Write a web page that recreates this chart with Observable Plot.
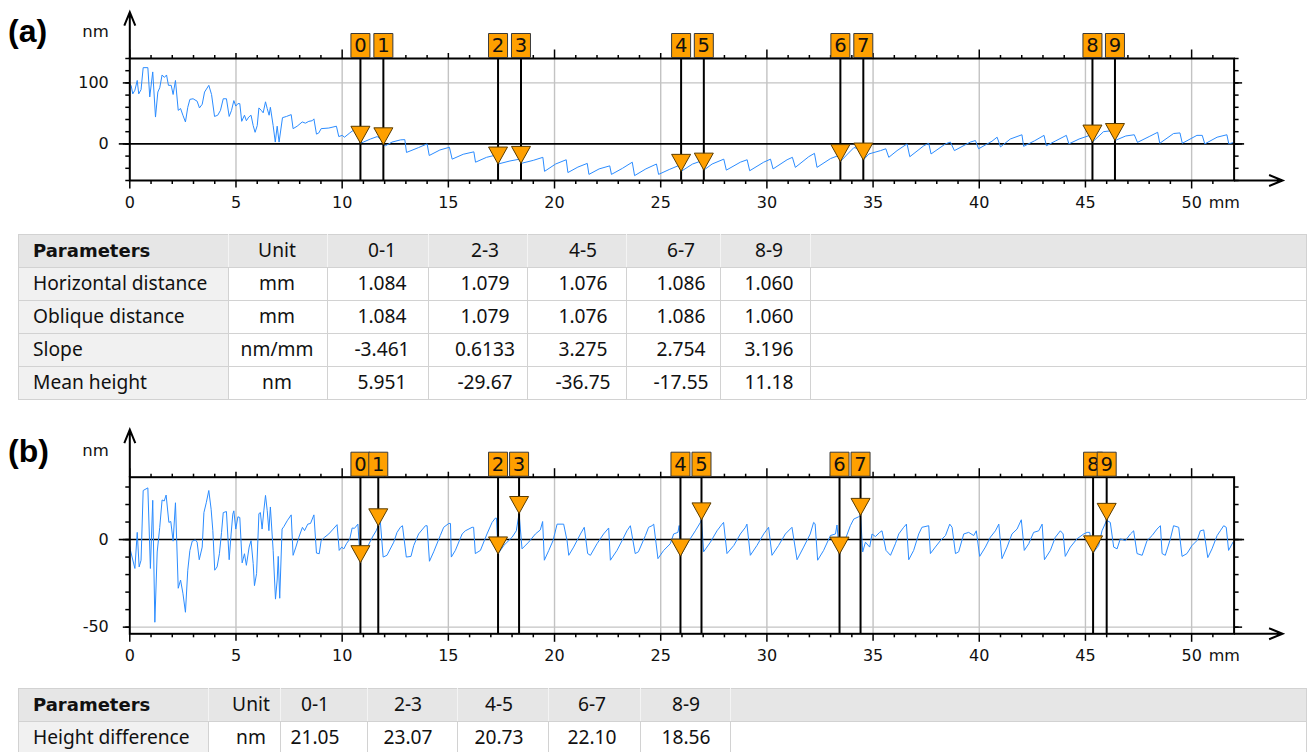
<!DOCTYPE html>
<html>
<head>
<meta charset="utf-8">
<script src="https://cdn.jsdelivr.net/npm/d3@7"></script>
<script src="https://cdn.jsdelivr.net/npm/@observablehq/plot@0.6"></script>
<style>
html,body{margin:0;padding:0;background:#fff;overflow:hidden;}
#page{position:relative;width:1307px;height:752px;overflow:hidden;background:#fff;}
#page > svg{position:absolute;left:0;}
</style>
</head>
<body>
<div id="page"></div>
<script>
// ---------------- DATA ----------------
// (a) raw profile: [position mm, height nm]
const profileA = [
[0.00,98],[0.06,96],[0.14,82],[0.24,88],[0.35,104],[0.42,82],[0.53,89],[0.63,125],[0.85,125],[0.94,77],
[1.08,118],[1.21,44],[1.32,85],[1.41,92],[1.52,113],[1.63,109],[1.73,113],[1.82,96],[1.95,96],[2.04,81],
[2.15,104],[2.28,55],[2.39,58],[2.50,47],[2.62,36],[2.73,60],[2.83,73],[2.98,74],[3.17,70],[3.28,59],
[3.41,65],[3.52,85],[3.72,96],[3.85,81],[3.99,45],[4.14,47],[4.27,55],[4.40,74],[4.55,74],[4.68,45],
[4.79,55],[4.90,71],[4.99,62],[5.09,66],[5.18,66],[5.27,37],[5.40,47],[5.49,38],[5.60,44],[5.71,47],
[5.81,30],[5.90,19],[6.00,30],[6.08,59],[6.19,55],[6.28,51],[6.39,69],[6.47,58],[6.56,47],[6.62,60],
[6.75,30],[6.85,3],[6.94,29],[7.03,3],[7.19,43],[7.38,45],[7.60,48],[7.69,25],[7.88,29],[8.12,36],
[8.27,34],[8.43,37],[8.59,38],[8.67,41],[8.79,16],[8.90,18],[9.01,25],[9.37,26],[9.73,29],[9.84,12],
[10.00,14],[10.11,11],[10.36,18],[10.55,23],[10.78,25],[10.86,1],[11.00,3],[11.33,8],[11.65,12],[11.88,6],
[11.94,-1.5],[12.04,-3],[12.35,3],[12.75,6.6],[12.95,7],
[13.03,-14],[13.60,-6],[14.00,0],[14.10,-19],
[14.60,-10],[15.05,-5.5],[15.18,-25],
[15.70,-17],[16.20,-13],[16.28,-30],
[16.80,-22],[17.27,-18],[17.34,-33],
[17.90,-28],[18.36,-25],[18.42,-32],
[19.00,-27],[19.45,-22],[19.53,-45],
[20.05,-33],[20.55,-26],[20.63,-47],
[21.10,-38],[21.54,-32],[21.62,-50],
[22.10,-41],[22.60,-36],[22.68,-50],
[23.20,-40],[23.66,-30],[23.77,-52],
[24.30,-41],[24.80,-33],[24.90,-50],
[25.40,-42],[25.88,-35],[25.96,-45],
[26.50,-33],[26.95,-27.5],[27.03,-43],
[27.42,-33],[27.97,-25],[28.09,-43],
[28.75,-30],[29.07,-26],[29.19,-44],
[29.85,-30],[30.17,-25],[30.29,-41],
[30.95,-26],[31.20,-22],[31.34,-38.5],
[31.97,-21],[32.24,-15.5],[32.36,-38.5],
[33.00,-24],[33.38,-19],[33.46,-29],
[33.80,-16.5],[34.10,-6],[34.45,-9],[34.54,-26.5],
[34.80,-16.5],[35.35,-11],[35.60,-8],[35.74,-22],
[36.13,-11],[36.60,0],[36.73,-21],
[37.39,-3],[37.62,1],[37.73,-16.5],
[38.41,0],[38.64,3],[38.83,-11],
[39.58,3],[39.82,5.5],[39.97,-8],
[40.60,4.4],[40.84,11],[41.00,-5],
[41.46,8],[42.01,15],[42.09,-4],
[42.60,5],[43.05,14],[43.16,-3],
[43.60,5],[44.10,14],[44.22,0],
[44.70,8],[45.20,14],[45.33,3],
[45.85,20],[46.30,22],[46.39,5.5],
[46.90,13],[47.30,15],[47.45,2.5],
[48.00,12],[48.40,19],[48.50,1],
[49.15,17],[49.45,18],[49.56,1],
[50.25,14],[50.50,14],[50.62,0],
[51.20,11],[51.66,15],[51.75,0],[51.95,2]
];

// (b) levelled profile: [position mm, height nm]
const profileB = [
[0.00,-4],[0.03,-6.2],[0.24,-16.5],[0.35,4.1],[0.44,-15.6],[0.53,-11.8],[0.63,28],[0.85,29.5],[0.97,-16.5],[1.08,22.4],
[1.18,-47.2],[1.29,-7.1],[1.41,7],[1.52,22.6],[1.62,22],[1.71,25.4],[1.84,9.8],[1.93,10.3],[2.04,-0.9],[2.15,21],
[2.28,-27.8],[2.39,-23.1],[2.50,-30.6],[2.62,-41.5],[2.73,-17.5],[2.83,-6.2],[2.94,-0.9],[3.09,-0.2],[3.17,-1.5],[3.27,-11.5],
[3.41,-4.3],[3.49,15.4],[3.60,21],[3.72,28],[3.83,17.3],[3.91,5.1],[4.00,-17.5],[4.11,-15.6],[4.22,-8.1],[4.32,4.1],
[4.40,15.4],[4.55,16],[4.68,-11.5],[4.77,3.2],[4.85,14.5],[4.90,16.4],[4.99,6],[5.09,13],[5.18,12.6],[5.29,-13.3],
[5.40,-8.1],[5.49,-14.7],[5.62,-4.3],[5.71,-0.6],[5.81,-13.7],[5.87,-26.3],[5.97,-19.4],[6.08,14.8],[6.15,15.4],[6.23,6],
[6.31,16.4],[6.39,25.2],[6.47,16.7],[6.55,5.1],[6.62,18.6],[6.75,-6.2],[6.86,-34],[6.94,-23.1],[6.99,-9.6],[7.06,-33.5],
[7.17,6],[7.25,7.3],[7.41,10.7],[7.60,14.1],[7.69,-9],[7.82,-4.3],[7.96,1.3],[8.13,7],[8.23,5.1],[8.38,8.8],
[8.51,9.2],[8.67,14.1],[8.79,-7.7],[8.92,-8.1],[9.01,-0.6],[9.17,1.3],[9.37,3.2],[9.54,5.5],[9.76,8.5],[9.86,-6.2],
[9.98,-4.3],[10.08,-5.3],[10.20,-2.4],[10.36,0.4],[10.47,6.6],[10.58,6.4],[10.74,8.8],
[10.86,-13.2],[10.95,-9],[11.20,-4],[11.45,2],[11.60,5],[11.70,7.85],[11.80,9.8],[11.93,-10],[12.11,-9],[12.43,-1.5],
[12.58,4],[12.74,7],[12.84,7.9],[13.02,-10],[13.24,-9.6],[13.37,-3.4],[13.60,3.2],[13.92,7.9],[14.00,7.9],[14.11,-12.4],
[14.31,-7],[14.62,2.3],[14.78,7],[15.02,9.2],[15.10,9.2],[15.14,-10],[15.33,-6.2],[15.65,3.2],[15.80,5],[16.12,7],
[16.19,7],[16.27,-8],[16.51,-6.2],[16.82,3.2],[17.06,9.8],[17.21,12.2],[17.27,12.2],[17.34,-8.2],[17.61,-3.4],[18.00,1.3],
[18.20,5],[18.33,14.87],[18.47,-5.3],[18.78,-1.5],[19.10,3.2],[19.33,5.5],[19.44,10.3],[19.52,-11.8],[19.73,-6.2],[19.93,-0.6],
[20.12,8.8],[20.43,8.8],[20.59,-0.6],[20.67,-9],[20.90,-4.3],[21.22,3.2],[21.40,7],[21.56,-8],[21.69,-9],[22.00,-2.4],
[22.31,3.2],[22.55,6.6],[22.63,-11.8],[22.94,-6.2],[23.18,-0.6],[23.41,5],[23.57,7.9],[23.80,-8],[23.95,-7],[24.28,2.3],
[24.43,7],[24.59,7.9],[24.67,8.8],[24.87,-10.9],[25.14,-6.2],[25.45,-2.4],[25.61,3.2],[25.81,4.1],[25.87,8],[25.93,-9.5],
[26.24,-2.4],[26.63,5],[26.87,9.8],[26.92,11.23],[27.02,-7],[27.34,-1.5],[27.65,5],[27.89,8.8],[27.96,9.8],[28.12,-8],
[28.44,-3.4],[28.75,3.2],[28.99,7],[29.06,8.8],[29.22,-9],[29.53,-3.4],[29.85,3.2],[30.08,7],[30.24,-9],[30.55,-3.4],
[30.87,3.2],[31.18,7],[31.42,-11.5],[31.73,-4.3],[32.04,3.2],[32.20,9.8],[32.27,9],[32.39,-11.8],[32.67,-6.2],[32.99,2.3],
[33.23,3.2],[33.30,8.3],[33.42,-8.3],[33.70,0.4],[33.93,7.9],[34.09,11.7],[34.32,13],[34.41,13.8],[34.51,-7.1],[34.64,-1.5],
[34.84,-4.3],[34.95,3.2],[35.11,1.7],[35.31,4.1],[35.42,5],[35.61,-6.2],[35.82,-9],[36.05,-2.4],[36.21,3.2],[36.44,7],
[36.57,8.8],[36.68,-11.5],[36.91,-6.2],[37.15,3.2],[37.30,7],[37.62,7.9],[37.70,-8],[37.93,-4.3],[38.17,-0.6],[38.41,2.3],
[38.61,8.8],[38.72,7],[38.88,-8],[39.03,-7],[39.27,3.2],[39.50,4.1],[39.74,2.3],[39.86,5],[40.02,-9.6],[40.29,-4.3],
[40.52,1.3],[40.76,5],[40.92,8.8],[41.07,-10.9],[41.31,-4.3],[41.54,3.2],[41.78,6],[41.98,11.3],[42.12,-6.2],[42.33,-2.4],
[42.56,4.1],[42.80,5],[42.96,8.8],[43.07,-11.5],[43.35,-6.2],[43.58,1.3],[43.82,5],[43.95,3.2],[44.05,-9.6],[44.29,-4.3],
[44.60,0.4],[44.92,3.2],[45.08,4.1],[45.20,4.1],[45.36,-7.6],[45.62,-3.4],[45.78,5],[46.00,10.96],[46.17,9.8],[46.33,-4.3],
[46.49,-5.3],[46.64,0.4],[46.88,-0.6],[47.12,3.2],[47.27,5],[47.43,-8],[47.67,-9],[47.90,-0.6],[48.14,2.3],[48.37,6],
[48.53,7.9],[48.61,-8],[48.76,-9],[49.00,0.4],[49.15,7.9],[49.39,7],[49.55,-9.6],[49.78,-8],[50.02,-3.4],[50.25,-0.6],
[50.41,5],[50.57,5.5],[50.76,-10.3],[50.96,-5.3],[51.20,2.3],[51.35,5],[51.51,7.9],[51.63,7],[51.74,-6.2],[51.95,-1.5]
];

const markerIds = ["0","1","2","3","4","5","6","7","8","9"];
const markerXA = [10.86, 11.94, 17.34, 18.42, 25.96, 27.03, 33.46, 34.54, 45.33, 46.39];
const markerYA = [1, -1.5, -33, -32, -45, -43, -29, -26.5, 3, 5.5];
const markerXB = [10.86, 11.70, 17.34, 18.33, 25.93, 26.92, 33.42, 34.41, 45.36, 46.00];
const markerYB = [-13.2, 7.85, -8.2, 14.87, -9.5, 11.23, -8.3, 13.8, -7.6, 10.96];

const xTickValues = [0, 5, 10, 15, 20, 25, 30, 35, 40, 45, 50];
const xTickLabels = ["0", "5", "10", "15", "20", "25", "30", "35", "40", "45", "50"];
const xUnitLabel = "mm";
const yUnitLabel = "nm";
const xGridLines = [5, 10, 15, 20, 25, 30, 35, 40, 45, 50];
const xMinorTicks = [0,1,2,3,4,5,6,7,8,9,10,11,12,13,14,15,16,17,18,19,20,21,22,23,24,25,26,27,28,29,30,31,32,33,34,35,36,37,38,39,40,41,42,43,44,45,46,47,48,49,50,51];

const yMinorA = [-60, -40, -20, 0, 20, 40, 60, 80, 100, 120, 140];
const yTickA = [0, 100];
const yTickLabelA = ["0", "100"];
const yGridA = [100];
const yMinorB = [-50, -40, -30, -20, -10, 0, 10, 20, 30];
const yTickB = [-50, 0];
const yTickLabelB = ["-50", "0"];
const yGridB = [-50];

const tableHeader = ["Parameters", "Unit", "0-1", "2-3", "4-5", "6-7", "8-9"];
const rowNamesA = ["Horizontal distance", "Oblique distance", "Slope", "Mean height"];
const rowUnitsA = ["mm", "mm", "nm/mm", "nm"];
const horizontalDistance = ["1.084", "1.079", "1.076", "1.086", "1.060"];
const obliqueDistance = ["1.084", "1.079", "1.076", "1.086", "1.060"];
const slopeValues = ["-3.461", "0.6133", "3.275", "2.754", "3.196"];
const meanHeight = ["5.951", "-29.67", "-36.75", "-17.55", "11.18"];
const rowNamesB = ["Height difference"];
const rowUnitsB = ["nm"];
const heightDifference = ["21.05", "23.07", "20.73", "22.10", "18.56"];

// ---------------- DRAWING ----------------
const ORANGE = "#ffa000";
const BLUE = "#2b8cff";
const GRID = "#c3c3c3";
const page = document.getElementById("page");

const seg = (x0, y0, x1, y1) => ({draw(c) { c.moveTo(x0, y0); c.lineTo(x1, y1); }});
const triSym = {draw(c) { c.moveTo(-9.5, -17); c.lineTo(9.5, -17); c.lineTo(0, 0); c.closePath(); }};
const boxSym = {draw(c) { c.moveTo(-9.5, -25); c.lineTo(9.5, -25); c.lineTo(9.5, -1); c.lineTo(-9.5, -1); c.closePath(); }};
const arrowUp = (h) => ({draw(c) { c.moveTo(0, 0); c.lineTo(0, -h); c.moveTo(-5.5, -h + 13.5); c.lineTo(0, -h); c.lineTo(5.5, -h + 13.5); }});
const arrowRight = (w) => ({draw(c) { c.moveTo(0, 0); c.lineTo(w, 0); c.moveTo(w - 13.5, -5.5); c.lineTo(w, 0); c.lineTo(w - 13.5, 5.5); }});

function panel(cfg) {
  const [y0, y1] = cfg.yDomain;
  const prof = cfg.profile.map(([x, y]) => ({x, y}));
  const mk = cfg.mx.map((x, i) => ({x, y: cfg.my[i], id: markerIds[i]}));
  const tops = cfg.mx.map((x, i) => ({x, y: y1, id: markerIds[i]}));
  const atY = (xs, y) => xs.map((x) => ({x, y}));
  const atX = (ys, x) => ys.map((y) => ({x, y}));
  const k = {x: "x", y: "y", stroke: "#000", fill: "none", strokeWidth: 1.5};
  const x10 = xMinorTicks.filter((d) => d % 10 === 0);
  const x5 = xMinorTicks.filter((d) => d % 5 === 0 && d % 10 !== 0);
  const x1 = xMinorTicks.filter((d) => d % 5 !== 0);
  const markerMarks = tops.flatMap((t) => [
    Plot.dot([t], {x: "x", y: "y", symbol: boxSym, fill: ORANGE, stroke: "#3a3a3a", strokeWidth: 1}),
    Plot.text([t], {x: "x", y: "y", text: "id", dy: -12.5, fontSize: 19.5, fill: "#111"})
  ]);
  const svg = Plot.plot({
    width: 1307, height: cfg.height,
    marginLeft: 129.3, marginRight: 73.4, marginTop: cfg.mt, marginBottom: cfg.mb,
    x: {domain: [0, 52], axis: null},
    y: {domain: cfg.yDomain, axis: null},
    style: {fontFamily: "'DejaVu Sans', sans-serif", fontSize: "16px", background: "transparent", maxWidth: "none", overflow: "visible"},
    marks: [
      Plot.ruleX(xGridLines, {stroke: GRID, strokeWidth: 1.4}),
      Plot.ruleY(cfg.yGrid, {stroke: GRID, strokeWidth: 1.4}),
      Plot.ruleY([0], {stroke: "#000", strokeWidth: 1.6}),
      Plot.line(prof, {x: "x", y: "y", stroke: BLUE, strokeWidth: 1}),
      Plot.ruleX(mk, {x: "x", stroke: "#000", strokeWidth: 2}),
      Plot.frame({stroke: "#000", strokeWidth: 2}),
      // x ticks, top edge (outward) and bottom edge (outward)
      Plot.dot(atY(x1, y1), {...k, symbol: seg(0, 0, 0, -3.5)}),
      Plot.dot(atY(x5, y1), {...k, symbol: seg(0, 0, 0, -5.5)}),
      Plot.dot(atY(x10, y1), {...k, symbol: seg(0, 0, 0, -9)}),
      Plot.dot(atY(x1, y0), {...k, symbol: seg(0, 0, 0, 3.5)}),
      Plot.dot(atY(x5, y0), {...k, symbol: seg(0, 0, 0, 7)}),
      Plot.dot(atY(x10, y0), {...k, symbol: seg(0, 0, 0, 8)}),
      // y ticks, left and right
      Plot.dot(atX(cfg.yMinor, 0), {...k, symbol: seg(0, 0, -4.5, 0)}),
      Plot.dot(atX(cfg.yMinor, 52), {...k, symbol: seg(0, 0, 4.5, 0)}),
      Plot.dot(atX(cfg.yTick, 0), {...k, symbol: seg(0, 0, -7, 0)}),
      Plot.dot(atX(cfg.yTick, 52), {...k, symbol: seg(0, 0, 8, 0)}),
      Plot.dot(atX([0], 0), {...k, strokeWidth: 1.6, symbol: seg(0, 0, -11, 0)}),
      Plot.dot(atX([0], 52), {...k, strokeWidth: 1.6, symbol: seg(0, 0, 10, 0)}),
      // axis arrows
      Plot.dot([{x: 0, y: y1}], {...k, strokeWidth: 2, symbol: arrowUp(cfg.arrowH)}),
      Plot.dot([{x: 52, y: y0}], {...k, strokeWidth: 2, symbol: arrowRight(48.5)}),
      // tick labels
      Plot.text(xTickValues.map((x, i) => ({x, y: y0, t: xTickLabels[i]})), {x: "x", y: "y", text: "t", dy: 22, fill: "#111"}),
      Plot.text([{x: 50, y: y0, t: xUnitLabel}], {x: "x", y: "y", text: "t", dy: 22, dx: 17, textAnchor: "start", fill: "#111"}),
      Plot.text(cfg.yTick.map((y, i) => ({x: 0, y, t: cfg.yTickLabel[i]})), {x: "x", y: "y", text: "t", dx: -21, textAnchor: "end", fill: "#111"}),
      Plot.text([{x: 0, y: y1, t: yUnitLabel}], {x: "x", y: "y", text: "t", dx: -21, dy: cfg.unitDy, textAnchor: "end", fontSize: 16.5, fill: "#111"}),
      // markers
      ...markerMarks,
      Plot.dot(mk, {x: "x", y: "y", symbol: triSym, fill: ORANGE, stroke: "#5a3c00", strokeWidth: 1})
    ]
  });
  svg.style.top = cfg.top + "px";
  page.appendChild(svg);
}

panel({profile: profileA, mx: markerXA, my: markerYA, yDomain: [-60, 140], yMinor: yMinorA, yTick: yTickA,
  yTickLabel: yTickLabelA, yGrid: yGridA, height: 225, mt: 58, mb: 45, top: 0, arrowH: 46.3, unitDy: -27});
panel({profile: profileB, mx: markerXB, my: markerYB, yDomain: [-53.8, 35.6], yMinor: yMinorB, yTick: yTickB,
  yTickLabel: yTickLabelB, yGrid: yGridB, height: 280, mt: 76.7, mb: 46.7, top: 400, arrowH: 47.5, unitDy: -26});

// ---------------- OVERLAY: panel letters and tables ----------------
const NS = "http://www.w3.org/2000/svg";
const ov = document.createElementNS(NS, "svg");
ov.setAttribute("width", 1307); ov.setAttribute("height", 752);
ov.style.top = "0px";
page.appendChild(ov);
function el(tag, attrs, text) {
  const e = document.createElementNS(NS, tag);
  for (const a in attrs) e.setAttribute(a, attrs[a]);
  if (text != null) e.textContent = text;
  ov.appendChild(e);
  return e;
}
el("text", {x: 8, y: 42, "font-family": "'Liberation Sans', Arial, sans-serif", "font-weight": "bold", "font-size": 32}, "(a)");
el("text", {x: 8, y: 462, "font-family": "'Liberation Sans', Arial, sans-serif", "font-weight": "bold", "font-size": 32}, "(b)");

function table(top, edges, centers, unitCenter, names, units, values) {
  const rowH = 33, nRows = names.length + 1;
  const L = edges[0], R = edges[edges.length - 1];
  el("rect", {x: L, y: top, width: R - L, height: rowH, fill: "#e6e6e6"});
  for (let r = 1; r < nRows; r++) el("rect", {x: L, y: top + r * rowH, width: edges[1] - L, height: rowH, fill: "#f1f1f1"});
  for (let r = 0; r <= nRows; r++) el("line", {x1: L, x2: R, y1: top + r * rowH + 0.5, y2: top + r * rowH + 0.5, stroke: "#d2d2d2"});
  edges.forEach((x, i) => el("line", {x1: x + 0.5, x2: x + 0.5, y1: top + (i === 0 || i === edges.length - 1 ? 0 : rowH), y2: top + nRows * rowH, stroke: "#d2d2d2"}));
  edges.forEach((x, i) => { if (i > 0 && i < edges.length - 1) el("line", {x1: x + 0.5, x2: x + 0.5, y1: top, y2: top + rowH, stroke: "#f4f4f4"}); });
  const font = {"font-family": "'Noto Sans', sans-serif", "font-size": 19.2, fill: "#111"};
  const base = (r) => top + r * rowH + rowH / 2 + 6.5;
  el("text", {x: 33, y: base(0), "font-family": "'DejaVu Sans', sans-serif", "font-size": 18, "font-weight": "bold", fill: "#111"}, tableHeader[0]);
  el("text", {...font, x: unitCenter, y: base(0), "text-anchor": "middle"}, tableHeader[1]);
  centers.forEach((c, j) => el("text", {...font, x: c, y: base(0), "text-anchor": "middle"}, tableHeader[j + 2]));
  names.forEach((n, r) => {
    el("text", {...font, x: 33, y: base(r + 1)}, n);
    el("text", {...font, x: unitCenter, y: base(r + 1), "text-anchor": "middle"}, units[r]);
    centers.forEach((c, j) => el("text", {...font, x: c, y: base(r + 1), "text-anchor": "middle"}, values[r][j]));
  });
}
table(234, [18, 228, 327, 428, 527, 626, 720, 810, 1306], [382, 485, 583, 681, 769], 277,
  rowNamesA, rowUnitsA, [horizontalDistance, obliqueDistance, slopeValues, meanHeight]);
table(688, [18, 208, 280, 367, 457, 548, 640, 730, 1306], [315, 408, 499, 592, 686], 251,
  rowNamesB, rowUnitsB, [heightDifference]);
</script>
</body>
</html>
